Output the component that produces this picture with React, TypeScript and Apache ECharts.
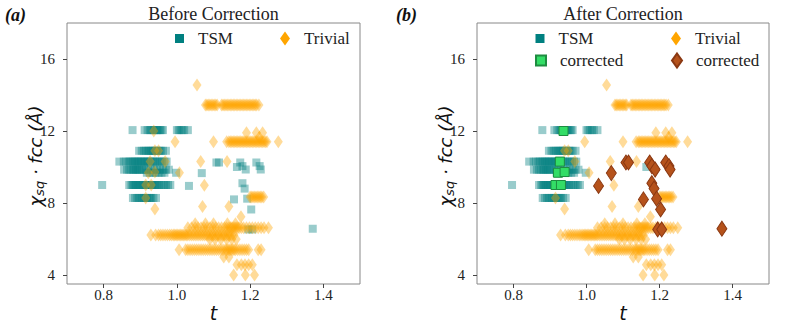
import React, { useEffect, useRef } from 'react';
import * as echarts from 'echarts';

type Pt = [number, number];
const row = (y: number, ts: number[]): Pt[] => ts.map((t) => [t, y] as Pt);

const xTicks = [0.8, 1.0, 1.2, 1.4];
const yTicks = [4, 8, 12, 16];

// TSM points that stay TSM (left cluster)
const tsmCluster: Pt[] = [
  ...row(12.05, [0.879, 0.912, 0.92, 0.926, 0.93, 0.934, 0.938, 0.942, 0.946, 0.95, 0.954, 0.958, 0.962, 1.0, 1.005, 1.01, 1.015, 1.02, 1.03]),
  ...row(10.9, [0.897, 0.904, 0.91, 0.916, 0.92, 0.924, 0.928, 0.932, 0.936, 0.94, 0.944, 0.948, 0.952, 0.956, 0.962, 0.97]),
  ...row(10.3, [0.843, 0.855, 0.862, 0.868, 0.873, 0.878, 0.882, 0.886, 0.89, 0.894, 0.898, 0.902, 0.906, 0.91, 0.914, 0.918, 0.922, 0.926, 0.93, 0.935, 0.94, 0.945, 0.95, 0.955, 0.96, 0.966, 0.972]),
  ...row(9.85, [0.856, 0.864, 0.87, 0.876, 0.88, 0.884, 0.888, 0.892, 0.896, 0.9, 0.905, 0.91, 0.916, 0.922, 0.93, 0.938, 0.946, 0.954, 0.962, 0.97, 0.978]),
  ...row(9.68, [0.918, 0.926, 0.934, 0.942, 0.95, 0.958, 0.966, 0.998]),
  ...row(9.0, [0.796, 0.87, 0.876, 0.88, 0.884, 0.888, 0.892, 0.896, 0.9, 0.904, 0.908, 0.912, 0.916, 0.92, 0.924, 0.928, 0.932, 0.936, 0.94, 0.944, 0.948, 0.952, 0.958, 0.964, 0.97, 0.976, 0.982]),
  ...row(8.28, [0.88, 0.886, 0.892, 0.897, 0.902, 0.906, 0.91, 0.914, 0.918, 0.922, 0.926, 0.93, 0.936, 0.943]),
];
const tsmKept: Pt[] = [[1.164, 10.0]];
// TSM points corrected to Trivial
const tsmCorrected: Pt[] = [
  [1.033, 8.95], [1.068, 9.66], [1.108, 10.25], [1.115, 10.25], [1.156, 8.2], [1.173, 10.25],
  [1.179, 10.05], [1.188, 9.86], [1.179, 9.1], [1.185, 8.8], [1.192, 8.24], [1.203, 7.64],
  [1.195, 6.53], [1.206, 6.53], [1.217, 10.25], [1.226, 10.05], [1.229, 9.86], [1.371, 6.57],
];
// Trivial points corrected to TSM
const trivialCorrected: Pt[] = [
  [0.937, 12.0], [0.927, 10.3], [0.922, 9.68], [0.94, 9.72], [0.915, 9.0], [0.93, 9.0],
];
const trivialKept: Pt[] = [
  [1.055, 14.55],
  ...row(13.45, [1.078, 1.082, 1.086, 1.09, 1.094, 1.098, 1.102, 1.106, 1.11, 1.122, 1.126, 1.13, 1.134, 1.138, 1.142, 1.146, 1.15, 1.154, 1.158, 1.162, 1.166, 1.17, 1.174, 1.178, 1.182, 1.186, 1.19, 1.194, 1.198, 1.202, 1.206, 1.21, 1.214, 1.218, 1.224]),
  ...row(11.4, [0.995, 1.1, 1.136, 1.142, 1.146, 1.15, 1.154, 1.158, 1.162, 1.166, 1.17, 1.174, 1.178, 1.182, 1.186, 1.19, 1.194, 1.198, 1.202, 1.206, 1.21, 1.214, 1.218, 1.222, 1.226, 1.23, 1.234, 1.238, 1.242, 1.246, 1.277]),
  ...row(11.9, [1.19, 1.217, 1.234]),
  [1.225, 11.65],
  [0.94, 10.9], [0.95, 10.9], [0.968, 10.3], [0.915, 8.28], [0.94, 7.66],
  [1.007, 9.68], [1.065, 10.3], [1.137, 10.3], [1.075, 8.98], [1.07, 7.8], [1.142, 7.8], [1.175, 7.23],
  ...row(8.33, [1.2, 1.204, 1.208, 1.212, 1.216, 1.22, 1.224, 1.228, 1.232, 1.237]),
  ...row(6.22, [0.929, 0.942, 0.95, 0.956, 0.962, 0.968, 0.974, 0.98, 0.985, 0.99, 0.994, 0.998, 1.002, 1.006, 1.01, 1.014, 1.018, 1.022, 1.026, 1.03, 1.035, 1.04, 1.045, 1.05, 1.055, 1.06, 1.065, 1.07, 1.075, 1.08, 1.085, 1.09, 1.095, 1.1, 1.105, 1.11, 1.115, 1.12, 1.125, 1.13, 1.135, 1.14, 1.145, 1.15, 1.156]),
  ...row(6.62, [1.03, 1.04, 1.05, 1.058, 1.066, 1.074, 1.082, 1.09, 1.098, 1.106, 1.114, 1.122, 1.13, 1.136, 1.142, 1.146, 1.15, 1.154, 1.158, 1.162, 1.166, 1.17, 1.176, 1.182, 1.19, 1.198, 1.206, 1.214, 1.222, 1.23, 1.238, 1.25]),
  ...row(6.85, [1.05, 1.078, 1.1, 1.138, 1.16]),
  ...row(5.98, [1.09, 1.104, 1.12, 1.136, 1.15, 1.162]),
  ...row(5.4, [1.006, 1.024, 1.03, 1.036, 1.042, 1.048, 1.054, 1.06, 1.066, 1.072, 1.078, 1.084, 1.09, 1.096, 1.102, 1.108, 1.114, 1.12, 1.126, 1.132, 1.136, 1.14, 1.144, 1.148, 1.152, 1.156, 1.16, 1.166, 1.172, 1.178, 1.184, 1.19, 1.196, 1.222, 1.23]),
  ...row(5.0, [1.128, 1.142]),
  ...row(4.57, [1.164, 1.176, 1.186, 1.196, 1.206]),
  ...row(4.0, [1.155, 1.187, 1.212]),
];

const TEAL = '#008080';
const ORANGE = '#FFA500';
const GREEN = '#33DD66';
const BROWN = '#B5521B';
const SERIF = 'Liberation Serif';
const SANS = 'DejaVu Sans';

const grids = [
  { left: 67, top: 23, width: 293, height: 261 },
  { left: 477, top: 23, width: 292, height: 261 },
];

function makeAxes() {
  const xAxis = grids.map((_, i) => ({
    type: 'value', gridIndex: i, min: 0.7, max: 1.5,
    splitLine: { show: false }, axisLine: { show: false },
    axisTick: { show: true, customValues: xTicks, length: 4, lineStyle: { color: '#444' } },
    axisLabel: { customValues: xTicks, formatter: (v: number) => v.toFixed(1), fontFamily: SERIF, fontSize: 15, color: '#222', margin: 3 },
  }));
  const yAxis = grids.map((_, i) => ({
    type: 'value', gridIndex: i, min: 3.5, max: 18,
    splitLine: { show: false }, axisLine: { show: false },
    axisTick: { show: true, customValues: yTicks, length: 4, lineStyle: { color: '#444' } },
    axisLabel: { customValues: yTicks, formatter: (v: number) => String(v), fontFamily: SERIF, fontSize: 15, color: '#222', margin: 12 },
  }));
  return { xAxis, yAxis };
}

const squareSeries = (name: string, idx: number, data: Pt[]) => ({
  type: 'scatter', name, xAxisIndex: idx, yAxisIndex: idx, data, symbol: 'rect', symbolSize: 8,
  itemStyle: { color: TEAL, opacity: 0.4 }, silent: true,
});
const diamondSeries = (name: string, idx: number, data: Pt[]) => ({
  type: 'scatter', name, xAxisIndex: idx, yAxisIndex: idx, data, symbol: 'diamond', symbolSize: [9, 13],
  itemStyle: { color: ORANGE, opacity: 0.4 }, silent: true,
});

const legendBase = {
  orient: 'horizontal', padding: 0, itemGap: 0, selectedMode: false,
  textStyle: { fontFamily: SERIF, fontSize: 17, color: '#222', padding: [0, 0, 0, 9] },
};

export default function App() {
  const ref = useRef<HTMLDivElement>(null);
  useEffect(() => {
    if (!ref.current) return;
    const chart = echarts.init(ref.current, undefined, { renderer: 'svg' });
    const { xAxis, yAxis } = makeAxes();
    const yLabel = (x: number) => ({
      type: 'text', x, y: 156, rotation: Math.PI / 2,
      style: {
        text: '{m|χ}{s|sq}{m| · fcc (Å)}',
        align: 'center', verticalAlign: 'middle',
        rich: {
          m: { fontFamily: SANS, fontStyle: 'italic', fontSize: 18, lineHeight: 22, fill: '#111' },
          s: { fontFamily: SANS, fontStyle: 'italic', fontSize: 13, lineHeight: 14, verticalAlign: 'bottom', fill: '#111' },
        },
      },
    });
    chart.setOption({
      animation: false,
      backgroundColor: '#fff',
      grid: grids.map((g) => ({ ...g, show: true, borderColor: '#888', borderWidth: 1, backgroundColor: 'transparent' })),
      xAxis, yAxis,
      legend: [
        { ...legendBase, data: [{ name: 'TSM', icon: 'rect' }], left: 175, top: 30, itemWidth: 9, itemHeight: 9, itemStyle: { opacity: 1 } },
        { ...legendBase, data: [{ name: 'Trivial', icon: 'diamond' }], left: 280, top: 30, itemWidth: 10, itemHeight: 14, itemStyle: { opacity: 1 } },
        { ...legendBase, data: [{ name: 'TSM', icon: 'rect' }], left: 535.5, top: 30, itemWidth: 9, itemHeight: 9, itemStyle: { opacity: 1 } },
        { ...legendBase, data: [{ name: 'Trivial', icon: 'diamond' }], left: 671, top: 30, itemWidth: 10, itemHeight: 14, itemStyle: { opacity: 1 } },
        { ...legendBase, data: [{ name: 'corrected TSM', icon: 'rect' }], formatter: () => 'corrected', left: 535, top: 52, itemWidth: 10, itemHeight: 10, itemStyle: { opacity: 1 } },
        { ...legendBase, data: [{ name: 'corrected Trivial', icon: 'diamond' }], formatter: () => 'corrected', left: 671, top: 52, itemWidth: 10, itemHeight: 14, itemStyle: { opacity: 1 } },
      ],
      series: [
        squareSeries('TSM', 0, [...tsmCluster, ...tsmKept, ...tsmCorrected]),
        diamondSeries('Trivial', 0, [...trivialKept, ...trivialCorrected]),
        squareSeries('TSM', 1, [...tsmCluster, ...tsmKept]),
        diamondSeries('Trivial', 1, trivialKept),
        {
          type: 'scatter', name: 'corrected TSM', xAxisIndex: 1, yAxisIndex: 1, data: trivialCorrected,
          symbol: 'rect', symbolSize: 9, silent: true,
          itemStyle: { color: GREEN, borderColor: '#1E8C40', borderWidth: 1, opacity: 1 },
        },
        {
          type: 'scatter', name: 'corrected Trivial', xAxisIndex: 1, yAxisIndex: 1, data: tsmCorrected,
          symbol: 'diamond', symbolSize: [10, 15], silent: true,
          itemStyle: { color: BROWN, borderColor: '#8A3812', borderWidth: 1, opacity: 1 },
        },
      ],
      graphic: [
        { type: 'text', x: 5, y: 15, style: { text: '(a)', fontFamily: SERIF, fontWeight: 'bold', fontStyle: 'italic', fontSize: 18, fill: '#111', verticalAlign: 'middle' } },
        { type: 'text', x: 396, y: 15, style: { text: '(b)', fontFamily: SERIF, fontWeight: 'bold', fontStyle: 'italic', fontSize: 18, fill: '#111', verticalAlign: 'middle' } },
        { type: 'text', x: 213.5, y: 14, style: { text: 'Before Correction', fontFamily: SERIF, fontSize: 18, fill: '#222', align: 'center', verticalAlign: 'middle' } },
        { type: 'text', x: 623, y: 14, style: { text: 'After Correction', fontFamily: SERIF, fontSize: 18, fill: '#222', align: 'center', verticalAlign: 'middle' } },
        { type: 'text', x: 213.5, y: 313, style: { text: 't', fontFamily: SANS, fontStyle: 'italic', fontSize: 19, fill: '#111', align: 'center', verticalAlign: 'middle' } },
        { type: 'text', x: 623, y: 313, style: { text: 't', fontFamily: SANS, fontStyle: 'italic', fontSize: 19, fill: '#111', align: 'center', verticalAlign: 'middle' } },
        yLabel(35),
        yLabel(445),
      ],
    });
    return () => chart.dispose();
  }, []);
  return <div ref={ref} style={{ position: 'fixed', left: 0, top: 0, width: 789, height: 330 }} />;
}
